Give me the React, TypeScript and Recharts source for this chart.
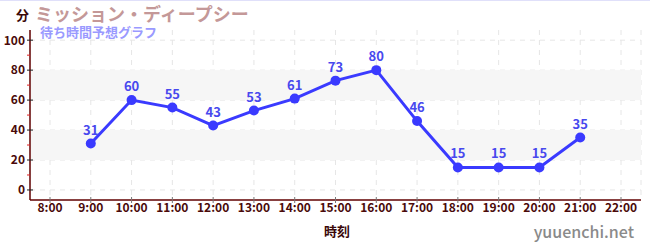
import React from 'react';
import { LineChart, Line, XAxis, YAxis, CartesianGrid, ReferenceArea, LabelList } from 'recharts';

const hours = ['8:00', '9:00', '10:00', '11:00', '12:00', '13:00', '14:00', '15:00', '16:00', '17:00', '18:00', '19:00', '20:00', '21:00', '22:00'];
const waits: (number | null)[] = [null, 31, 60, 55, 43, 53, 61, 73, 80, 46, 15, 15, 15, 35, null];
const yTicks = [0, 10, 20, 30, 40, 50, 60, 70, 80, 90, 100];
const yMajor = [0, 20, 40, 60, 80, 100];
const bands: [number, number][] = [[20, 40], [60, 80]];

const data = hours.map((h, i) => ({ h, v: waits[i] }));

const FONT = '"Noto Sans CJK JP", "Noto Sans", sans-serif';
const LINE = '#3a3aff';
const XPAD = 20;

const YTick = (props: any) => {
  const { x, y, payload } = props;
  const v = payload.value;
  if (v % 20 !== 0) {
    return <line x1={x - 3} x2={x} y1={y} y2={y} stroke="#e02020" strokeWidth={1} />;
  }
  return (
    <g>
      <line x1={x - 3} x2={x + 3} y1={y} y2={y} stroke="#222" strokeWidth={1} />
      <text x={x - 5} y={y} dy="0.36em" textAnchor="end" fill="#4a0a0a" fontSize={12} fontWeight="bold" fontFamily={FONT}>{v}</text>
    </g>
  );
};

const XTick = (props: any) => {
  const { x, y, payload } = props;
  return (
    <g>
      <line x1={x} x2={x} y1={y - 3} y2={y + 3} stroke="#777" strokeWidth={1} />
      <text x={x} y={y + 12} textAnchor="middle" fill="#4a0a0a" fontSize={12} fontWeight="bold" fontFamily={FONT}>{payload.value}</text>
    </g>
  );
};

const BandShape = (props: any) => {
  const { x, y, width, height } = props;
  return <rect x={x - XPAD} y={y} width={width + 2 * XPAD} height={height} fill="#f6f6f6" stroke="none" />;
};

export default function App() {
  return (
    <div style={{ position: 'absolute', left: 0, top: 0, width: 650, height: 250, background: '#fff', fontFamily: FONT }}>
      <div style={{ position: 'absolute', left: 0, top: 0, width: 650, height: 0, borderTop: '1px solid #e0e0fa' }} />
      <LineChart width={650} height={250} data={data} margin={{ top: 30, right: 9, bottom: 0, left: 0 }}>
        {bands.map(([a, b]) => (
          <ReferenceArea key={a} y1={a} y2={b} ifOverflow="visible" shape={<BandShape />} />
        ))}
        <CartesianGrid stroke="#e6e6e6" strokeDasharray="5 5" horizontalValues={yMajor} />
        <XAxis
          dataKey="h"
          interval={0}
          padding={{ left: XPAD, right: XPAD }}
          height={50}
          tickSize={0}
          tickMargin={0}
          tickLine={false}
          axisLine={{ stroke: '#600000', strokeWidth: 1.5 }}
          tick={<XTick />}
        />
        <YAxis
          width={30}
          domain={[-6.7, 106.8]}
          ticks={yTicks}
          interval={0}
          tickSize={0}
          tickMargin={0}
          tickLine={false}
          axisLine={{ stroke: '#600000', strokeWidth: 1.5 }}
          tick={<YTick />}
        />
        <Line
          dataKey="v"
          stroke={LINE}
          strokeWidth={3}
          dot={{ r: 5, fill: LINE, stroke: LINE, strokeWidth: 0 }}
          activeDot={false}
          isAnimationActive={false}
        >
          <LabelList dataKey="v" position="top" offset={9} fill="#4848ee" fontSize={13} fontWeight="bold" fontFamily={FONT} />
        </Line>
      </LineChart>
      <div style={{ position: 'absolute', left: 16, top: 6, fontSize: 13, fontWeight: 'bold', color: '#3a0808', lineHeight: '18px' }}>分</div>
      <div style={{ position: 'absolute', left: 35, top: 3, fontSize: 18, fontWeight: 'bold', color: '#c49898', lineHeight: '20px' }}>ミッション・ディープシー</div>
      <div style={{ position: 'absolute', left: 40, top: 24, fontSize: 13, fontWeight: 'bold', color: '#9a9aff', lineHeight: '15px' }}>待ち時間予想グラフ</div>
      <div style={{ position: 'absolute', left: 337, top: 222, transform: 'translateX(-50%)', fontSize: 13, fontWeight: 'bold', color: '#3a0808', lineHeight: '18px' }}>時刻</div>
      <div style={{ position: 'absolute', right: 16, top: 221, fontSize: 16, fontWeight: 500, color: '#8a8a8a', lineHeight: '20px' }}>yuuenchi.net</div>
    </div>
  );
}
